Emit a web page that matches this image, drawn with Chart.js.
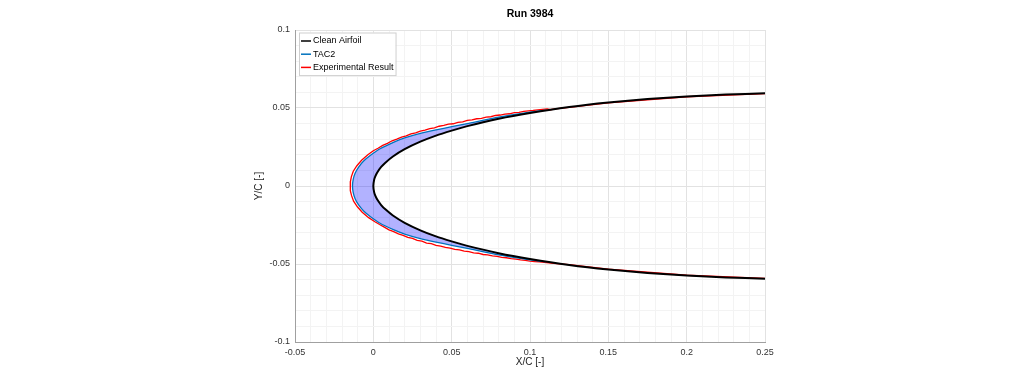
<!DOCTYPE html>
<html>
<head>
<meta charset="utf-8">
<script src="https://cdn.jsdelivr.net/npm/chart.js@4.4.1/dist/chart.umd.min.js"></script>
<style>
  html, body { margin: 0; padding: 0; background: #fff; }
</style>
</head>
<body>
<canvas id="myChart" width="1024" height="384"></canvas>
<script>
// Clean airfoil: upper surface from x/c=0.25 round the nose and back along the lower surface
const cleanX = [0.25, 0.225, 0.2, 0.175, 0.15, 0.125, 0.1, 0.08, 0.06, 0.05, 0.04, 0.03, 0.02, 0.0125, 0.0075, 0.005, 0.0025, 0.00125, 0.0005, 0,
  0.0005, 0.00125, 0.0025, 0.005, 0.0075, 0.0125, 0.02, 0.03, 0.04, 0.05, 0.06, 0.08, 0.1, 0.125, 0.15, 0.175, 0.2, 0.225, 0.25];
const cleanY = [0.0594, 0.0586, 0.0574, 0.0557, 0.0535, 0.0506, 0.0468, 0.0431, 0.0384, 0.0355, 0.0323, 0.0284, 0.0236, 0.0189, 0.0148, 0.0122, 0.0087, 0.0062, 0.0039, 0,
  -0.0039, -0.0062, -0.0087, -0.0122, -0.0148, -0.0189, -0.0236, -0.0284, -0.0323, -0.0355, -0.0384, -0.0431, -0.0468, -0.0506, -0.0535, -0.0557, -0.0574, -0.0586, -0.0594];

// TAC2 predicted ice shape
const tacX = [0.11, 0.1, 0.08, 0.06, 0.05, 0.04, 0.03, 0.02, 0.0128, 0.004, -0.002, -0.0062, -0.0095, -0.0117, -0.0129, -0.0133,
  -0.0129, -0.0117, -0.0095, -0.0062, -0.002, 0.004, 0.0128, 0.02, 0.03, 0.04, 0.05, 0.06, 0.08, 0.1, 0.11];
const tacY = [0.0486, 0.0474, 0.0442, 0.0400, 0.0380, 0.0360, 0.0337, 0.0308, 0.0280, 0.0237, 0.0195, 0.016, 0.012, 0.008, 0.004, 0,
  -0.004, -0.008, -0.012, -0.016, -0.0195, -0.0237, -0.028, -0.0308, -0.0337, -0.036, -0.038, -0.04, -0.0442, -0.0474, -0.0486];

// Experimental ice tracing
const expUpperX = [0.25, 0.2, 0.15, 0.125, 0.116, 0.113, 0.111, 0.108, 0.105, 0.102, 0.099, 0.096, 0.093, 0.090, 0.087, 0.084, 0.081, 0.078, 0.075, 0.072,
  0.069, 0.066, 0.063, 0.060, 0.057, 0.054, 0.051, 0.048, 0.045, 0.042, 0.039, 0.036, 0.033, 0.030, 0.027, 0.024, 0.021, 0.018, 0.015, 0.012,
  0.009, 0.006, 0.003, 0.000, -0.0035, -0.0075, -0.0105, -0.0128, -0.0140, -0.0146, -0.0148];
const expUpperY = [0.0592, 0.0572, 0.0533, 0.0504, 0.0494, 0.0489, 0.0494, 0.0491, 0.0488, 0.0484, 0.0481, 0.0478, 0.0472, 0.0470, 0.0463, 0.0461, 0.0455, 0.0452, 0.0444, 0.0442,
  0.0434, 0.0431, 0.0424, 0.0420, 0.0411, 0.0408, 0.0399, 0.0396, 0.0388, 0.0383, 0.0373, 0.0368, 0.0358, 0.0352, 0.0341, 0.0334, 0.0321, 0.0313, 0.0300, 0.0290,
  0.0273, 0.0260, 0.0242, 0.0226, 0.0200, 0.0165, 0.0130, 0.0095, 0.0060, 0.0030, 0.0000];
const expLowerX = [-0.0146, -0.0139, -0.0126, -0.0102, -0.0071, -0.0030, 0.001, 0.004, 0.007, 0.010, 0.013, 0.016, 0.019, 0.022, 0.025, 0.028, 0.031, 0.034, 0.037, 0.040,
  0.043, 0.046, 0.049, 0.052, 0.055, 0.058, 0.061, 0.064, 0.067, 0.070, 0.073, 0.076, 0.079, 0.082, 0.085, 0.088, 0.091, 0.094, 0.097, 0.100,
  0.103, 0.106, 0.109, 0.112, 0.115, 0.125, 0.15, 0.2, 0.25];
const expLowerY = [-0.0030, -0.0062, -0.0097, -0.0133, -0.0168, -0.0203, -0.0229, -0.0247, -0.0264, -0.0281, -0.0292, -0.0307, -0.0316, -0.0329, -0.0336, -0.0348, -0.0354, -0.0366, -0.0370, -0.0380,
  -0.0385, -0.0394, -0.0398, -0.0406, -0.0410, -0.0418, -0.0421, -0.0429, -0.0431, -0.0439, -0.0441, -0.0448, -0.0451, -0.0457, -0.0460, -0.0466, -0.0469, -0.0474, -0.0477, -0.0482,
  -0.0484, -0.0487, -0.0490, -0.0492, -0.0496, -0.0504, -0.0533, -0.0572, -0.0592];

const pts = (xs, ys) => xs.map((x, i) => ({x: x, y: ys[i]}));

// shaded ice area: TAC2 outline, then back along the clean surface
const icePts = pts(tacX, tacY).concat(pts(cleanX, cleanY).reverse().filter(p => p.x <= 0.1));

const FONT = '"Liberation Sans", Arial, Helvetica, sans-serif';
const isMajor = v => Math.abs(v / 0.05 - Math.round(v / 0.05)) < 1e-6;
const tickLabel = v => isMajor(v) ? String(Math.round(v * 100) / 100) : '';
const gridColor = c => (c.tick && isMajor(c.tick.value)) ? '#e2e2e2' : '#f3f3f3';

// legend in a white box at the top left of the plot
const boxLegend = {
  id: 'boxLegend',
  afterDraw(chart) {
    const ctx = chart.ctx;
    const area = chart.chartArea;
    const items = chart.data.datasets.filter(d => d.label);
    const x0 = area.left + 4, y0 = area.top + 2.5;
    ctx.save();
    ctx.font = '9px ' + FONT;
    let w = 0;
    items.forEach(d => { w = Math.max(w, ctx.measureText(d.label).width); });
    const rowH = 13.2;
    ctx.fillStyle = '#fff';
    ctx.fillRect(x0, y0, w + 16, items.length * rowH + 3);
    ctx.strokeStyle = '#cfcfcf';
    ctx.lineWidth = 1;
    ctx.strokeRect(x0 + 0.5, y0 + 0.5, w + 16, items.length * rowH + 3);
    items.forEach((d, i) => {
      const y = y0 + 8.5 + i * rowH;
      ctx.strokeStyle = d.borderColor;
      ctx.lineWidth = 1.5;
      ctx.beginPath();
      ctx.moveTo(x0 + 2, y);
      ctx.lineTo(x0 + 12, y);
      ctx.stroke();
      ctx.fillStyle = '#000';
      ctx.textBaseline = 'middle';
      ctx.fillText(d.label, x0 + 14, y);
    });
    ctx.restore();
  }
};

const ctx = document.getElementById('myChart').getContext('2d');
const myChart = new Chart(ctx, {
  type: 'scatter',
  data: {
    datasets: [
      { label: 'Clean Airfoil', data: pts(cleanX, cleanY), showLine: true, borderColor: '#000000', borderWidth: 2, pointRadius: 0, tension: 0.2, fill: false },
      { label: 'TAC2', data: pts(tacX, tacY), showLine: true, borderColor: '#0072BD', borderWidth: 1.3, pointRadius: 0, tension: 0.2, fill: false },
      { label: 'Experimental Result', data: pts(expUpperX, expUpperY).concat(pts(expLowerX, expLowerY)), showLine: true, borderColor: '#ff0000', borderWidth: 1.3, pointRadius: 0, tension: 0, fill: false },
      { data: icePts, showLine: true, borderWidth: 0, borderColor: 'rgba(0,0,0,0)', backgroundColor: 'rgba(0,0,255,0.3)', pointRadius: 0, tension: 0.2, fill: 'shape' }
    ]
  },
  options: {
    responsive: false,
    animation: false,
    layout: { padding: { left: 250, right: 259, top: 0, bottom: 14 } },
    plugins: {
      legend: { display: false },
      tooltip: { enabled: false },
      title: {
        display: true,
        text: 'Run 3984',
        fullSize: false,
        color: '#000',
        font: { family: FONT, size: 10.5, weight: 'bold' },
        padding: { top: 8, bottom: 9.4 }
      }
    },
    scales: {
      x: {
        type: 'linear',
        min: -0.05,
        max: 0.25,
        afterFit: s => { s.height = 28; },
        ticks: { stepSize: 0.01, maxTicksLimit: 100, autoSkip: false, maxRotation: 0, padding: 5, color: '#333', font: { family: FONT, size: 9 }, callback: tickLabel },
        grid: { color: gridColor, drawTicks: false },
        border: { color: '#a0a0a0' },
        title: { display: true, text: 'X/C [-]', color: '#222', font: { family: FONT, size: 10 }, padding: { top: 0, bottom: 2 } }
      },
      y: {
        type: 'linear',
        min: -0.1,
        max: 0.1,
        afterFit: s => { s.width = 45; },
        ticks: { stepSize: 0.01, maxTicksLimit: 100, autoSkip: false, padding: 5, color: '#333', font: { family: FONT, size: 9 }, callback: tickLabel },
        grid: { color: gridColor, drawTicks: false },
        border: { color: '#a0a0a0' },
        title: { display: true, text: 'Y/C [-]', color: '#222', font: { family: FONT, size: 10 }, padding: { top: 3, bottom: 0 } }
      }
    }
  },
  plugins: [boxLegend]
});
</script>
</body>
</html>
